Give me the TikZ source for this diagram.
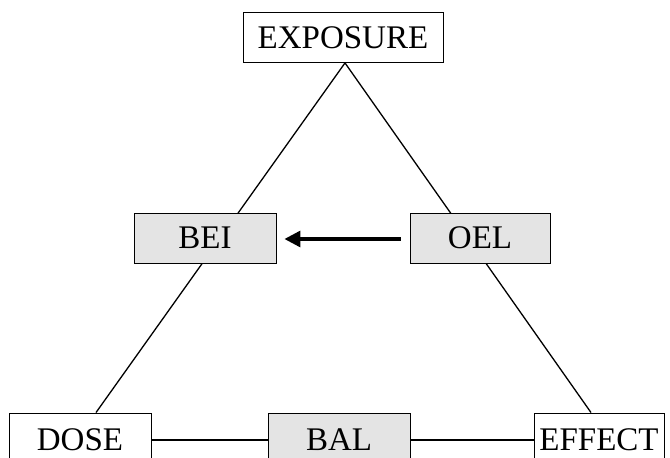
\documentclass[tikz,border=0pt]{standalone}
\usepackage{fontspec}
\setmainfont{Liberation Serif}
\usetikzlibrary{arrows.meta,calc,backgrounds}
\definecolor{boxgray}{HTML}{E4E4E4}
\tikzset{
  box/.style={draw=black, line width=0.9pt, fill=white, inner sep=0pt,
    minimum height=50pt, font=\fontsize{33}{39}\selectfont},
  graybox/.style={box, fill=boxgray},
  link/.style={draw=black, line width=1.3pt},
  bigarrow/.style={draw=black, line width=3.2pt, -{Triangle[length=16pt,width=16pt]}}
}
\begin{document}
\begin{tikzpicture}[x=1pt,y=-1pt]
\useasboundingbox (0,0) rectangle (670,458);
\clip (0,0) rectangle (670,458);
\node[box, minimum width=200pt] (EXP) at (343,37.5) {EXPOSURE};
\node[graybox, minimum width=142pt] (BEI) at (205,238) {BEI};
\node[graybox, minimum width=140pt] (OEL) at (480,238) {OEL};
\node[box, minimum width=142pt, minimum height=54pt] (DOSE) at (80,440) {DOSE};
\node[graybox, minimum width=142pt, minimum height=54pt] (BAL) at (339,440) {BAL};
\node[box, minimum width=130pt, minimum height=54pt] (EFF) at (599,440) {EFFECT};
\begin{scope}[on background layer]
\draw[link] ([xshift=2pt]EXP.south) -- ($(DOSE.north)+(16,0)$);
\draw[link] ([xshift=2pt]EXP.south) -- ($(EFF.north)+(-8,0)$);
\end{scope}
\draw[link] (DOSE.east) -- (BAL.west);
\draw[link] (BAL.east) -- (EFF.west);
\draw[bigarrow] ([xshift=-9pt,yshift=-1pt]OEL.west) -- ([xshift=8pt,yshift=-1pt]BEI.east);
\end{tikzpicture}
\end{document}
